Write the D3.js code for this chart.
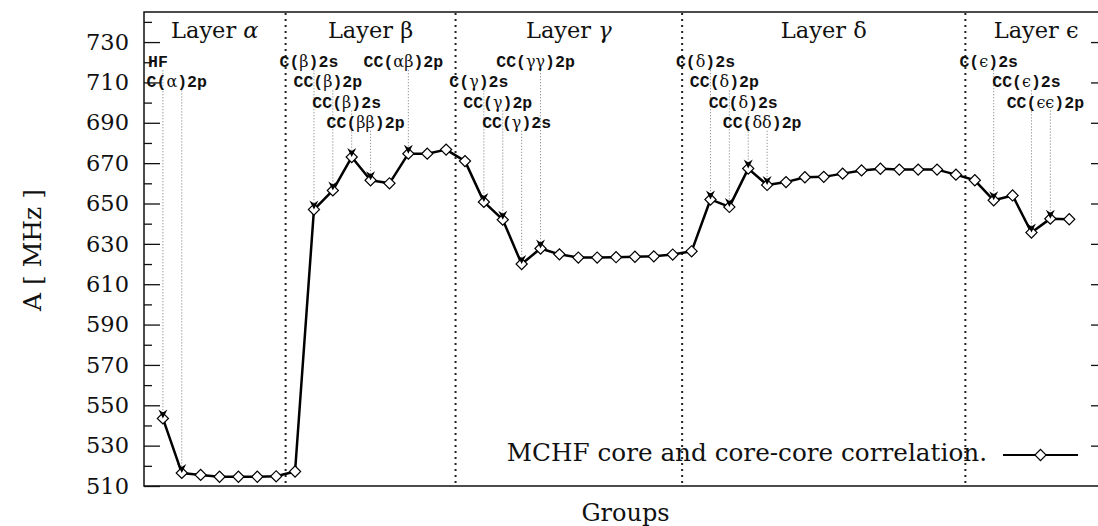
<!DOCTYPE html>
<html>
<head>
<meta charset="utf-8">
<script src="https://cdn.jsdelivr.net/npm/d3@7/dist/d3.min.js"></script>
<style>
  html, body { margin: 0; padding: 0; background: #fff; }
  svg { display: block; }
</style>
</head>
<body>
<svg id="chart" width="1098" height="526"></svg>
<script>
// Hyperfine constant A (MHz) for successive groups of configurations
const values = [
  543.5, 516.5, 515.5, 514.6, 514.6, 514.6, 514.8,
  517.2, 647.0, 656.5, 673.0, 661.5, 660.0, 674.7, 674.7, 676.7,
  671.0, 650.8, 642.0, 620.0, 627.7, 624.8, 623.2, 623.2, 623.4, 623.6, 623.8, 624.7,
  626.3, 652.0, 648.3, 667.3, 659.2, 660.6, 663.0, 663.2, 664.8, 666.4, 667.2, 666.8, 666.8, 666.8, 664.3,
  661.5, 651.6, 654.0, 635.6, 642.5, 642.2
];

// Layers and the number of groups in each
const layerNames = ["α", "β", "γ", "δ", "ϵ"];
const layerSizes = [7, 9, 12, 15, 6];

// Y axis ticks
const majorTicks = [510, 530, 550, 570, 590, 610, 630, 650, 670, 690, 710, 730];
const minorTicks = [520, 540, 560, 580, 600, 620, 640, 660, 680, 700, 720, 740];

// Annotated groups: index of the group, its label, and the label tier
const annotIndex = [0, 1, 8, 9, 10, 11, 13, 17, 18, 19, 20, 29, 30, 31, 32, 44, 46, 47];
const annotLabel = [
  "HF", "C(α)2p",
  "C(β)2s", "CC(β)2p", "CC(β)2s", "CC(ββ)2p", "CC(αβ)2p",
  "C(γ)2s", "CC(γ)2p", "CC(γ)2s", "CC(γγ)2p",
  "C(δ)2s", "CC(δ)2p", "CC(δ)2s", "CC(δδ)2p",
  "C(ϵ)2s", "CC(ϵ)2s", "CC(ϵϵ)2p"
];
const annotTier = [0, 1, 0, 1, 2, 3, 0, 1, 2, 3, 0, 0, 1, 2, 3, 0, 1, 2];
const tierValues = [720, 710, 700, 690];

const legendText = "MCHF core and core-core correlation.";

// ---- layout ----
const svg = d3.select("#chart");
const plotLeft = 144, plotRight = 1107, plotTop = 12, plotBottom = 486;
const serif = "'DejaVu Serif', serif";
const mono = "'Liberation Mono', monospace";

const x = d3.scaleLinear().domain([-1, values.length + 1]).range([plotLeft, plotRight]);
const y = d3.scaleLinear().domain([510, 744.9]).range([plotBottom, plotTop]);

// Y axis (left): major ticks with labels, minor ticks without
const yMajor = svg.append("g").attr("transform", `translate(${plotLeft},0)`)
  .call(d3.axisLeft(y).tickValues(majorTicks).tickSize(-16).tickPadding(15)
    .tickFormat(d3.format("d")));
const yMinor = svg.append("g").attr("transform", `translate(${plotLeft},0)`)
  .call(d3.axisLeft(y).tickValues(minorTicks).tickSize(-8).tickFormat(""));
// Right-hand ticks
const yRight = svg.append("g").attr("transform", `translate(${plotRight},0)`)
  .call(d3.axisRight(y).tickValues(majorTicks.slice(1)).tickSize(-16).tickFormat(""));
const yRightMinor = svg.append("g").attr("transform", `translate(${plotRight},0)`)
  .call(d3.axisRight(y).tickValues(minorTicks).tickSize(-8).tickFormat(""));

[yMajor, yMinor, yRight, yRightMinor].forEach(g => {
  g.select(".domain").remove();
  g.selectAll(".tick line").attr("stroke", "#111").attr("stroke-width", 1.3);
});
yMajor.selectAll(".tick text")
  .attr("font-family", serif).attr("font-size", 22.5).attr("fill", "#111");

// Frame
svg.append("rect")
  .attr("x", plotLeft).attr("y", plotTop)
  .attr("width", plotRight - plotLeft).attr("height", plotBottom - plotTop)
  .attr("fill", "none").attr("stroke", "#111").attr("stroke-width", 1.5);

// Layer separators and titles
let start = 0;
const bounds = [];
layerSizes.forEach(n => { bounds.push([start, start + n - 1]); start += n; });
bounds.forEach((b, k) => {
  const x0 = k === 0 ? plotLeft : x(b[0] - 0.5);
  const x1 = k === bounds.length - 1 ? plotRight : x(b[1] + 0.5);
  if (k > 0) {
    svg.append("line")
      .attr("x1", x0).attr("x2", x0).attr("y1", plotTop + 1).attr("y2", plotBottom - 1)
      .attr("stroke", "#222").attr("stroke-width", 2)
      .attr("stroke-dasharray", "2,4");
  }
  const t = svg.append("text")
    .attr("x", (x0 + x1) / 2).attr("y", 38)
    .attr("text-anchor", "middle")
    .attr("font-family", serif).attr("font-size", 22.5).attr("fill", "#111");
  t.append("tspan").text("Layer ");
  t.append("tspan").text(layerNames[k])
    .attr("font-style", (k === 0 || k === 2) ? "italic" : "normal");
});

// Annotation arrows (dotted stems)
const greek = /[αβγδϵ]/;
annotIndex.forEach((idx, k) => {
  const px = x(idx);
  const ly = y(tierValues[annotTier[k]]);
  svg.append("line")
    .attr("x1", px).attr("x2", px)
    .attr("y1", ly + 8).attr("y2", y(values[idx]) - 6)
    .attr("stroke", "#777").attr("stroke-width", 1)
    .attr("stroke-dasharray", "1,2");
});

// Data line
svg.append("path")
  .datum(values)
  .attr("d", d3.line().x((d, i) => x(i)).y(d => y(d)))
  .attr("fill", "none").attr("stroke", "#000").attr("stroke-width", 2.5)
  .attr("stroke-linejoin", "round");

// Diamond markers
const diamond = d3.symbol().type(d3.symbolSquare).size(62);
svg.append("g").selectAll("path")
  .data(values)
  .join("path")
  .attr("d", diamond)
  .attr("transform", (d, i) => `translate(${x(i)},${y(d)}) rotate(45)`)
  .attr("fill", "#fff").attr("stroke", "#000").attr("stroke-width", 1.2);

// Arrow heads
annotIndex.forEach(idx => {
  svg.append("path")
    .attr("d", "M0,0 L-4.5,-9 L0,-6 L4.5,-9 Z")
    .attr("transform", `translate(${x(idx)},${y(values[idx])})`)
    .attr("fill", "#000");
});

// Annotation labels
annotIndex.forEach((idx, k) => {
  const t = svg.append("text")
    .attr("x", x(idx) - 5)
    .attr("y", y(tierValues[annotTier[k]]) + 5)
    .attr("text-anchor", "middle")
    .attr("font-family", mono).attr("font-weight", "bold")
    .attr("font-size", 16.5).attr("fill", "#111");
  Array.from(annotLabel[k]).forEach(ch => {
    const s = t.append("tspan").text(ch);
    if (greek.test(ch)) {
      s.attr("font-family", serif).attr("font-weight", "normal").attr("font-size", 16);
    }
  });
});

// Axis titles
svg.append("text")
  .attr("transform", "translate(41,250) rotate(-90)")
  .attr("text-anchor", "middle")
  .attr("font-family", serif).attr("font-size", 25).attr("fill", "#111")
  .text("A [ MHz ]");

svg.append("text")
  .attr("x", (plotLeft + plotRight) / 2).attr("y", 521)
  .attr("text-anchor", "middle")
  .attr("font-family", serif).attr("font-size", 24).attr("fill", "#111")
  .text("Groups");

// Legend
const legY = 455;
svg.append("text")
  .attr("x", 987).attr("y", legY + 6)
  .attr("text-anchor", "end")
  .attr("font-family", serif).attr("font-size", 24.7).attr("fill", "#111")
  .text(legendText);
svg.append("line")
  .attr("x1", 1003).attr("x2", 1078).attr("y1", legY).attr("y2", legY)
  .attr("stroke", "#000").attr("stroke-width", 2.2);
svg.append("path")
  .attr("d", diamond)
  .attr("transform", `translate(1040.5,${legY}) rotate(45)`)
  .attr("fill", "#fff").attr("stroke", "#000").attr("stroke-width", 1.2);
</script>
</body>
</html>
